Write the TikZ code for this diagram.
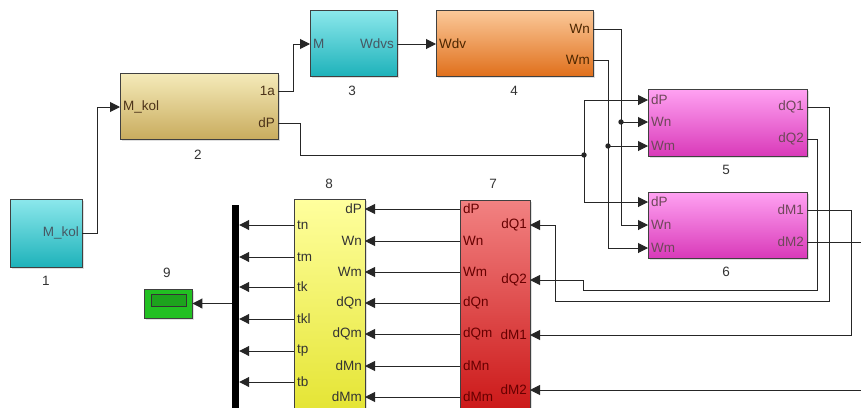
\documentclass[tikz,border=0pt]{standalone}
\usepackage{fontspec}
\setmainfont{Liberation Sans}
\usetikzlibrary{arrows.meta,shadows}

\definecolor{cyantop}{HTML}{8CE8EC}
\definecolor{cyanbot}{HTML}{1EB2BA}
\definecolor{khakitop}{HTML}{F5EBBA}
\definecolor{khakibot}{HTML}{C9AC5E}
\definecolor{orangetop}{HTML}{FBC99A}
\definecolor{orangebot}{HTML}{E0701C}
\definecolor{pinktop}{HTML}{FFA2F2}
\definecolor{pinkbot}{HTML}{D93AB9}
\definecolor{redtop}{HTML}{F28282}
\definecolor{redbot}{HTML}{C80E0E}
\definecolor{yellowtop}{HTML}{FFFF9E}
\definecolor{yellowbot}{HTML}{E2E22A}
\definecolor{scopegreen}{HTML}{22C022}

\tikzset{
  blk/.style={draw=black!75, line width=0.9pt, inner sep=0pt,
    drop shadow={opacity=0.25, shadow xshift=1.5pt, shadow yshift=-1.5pt}},
  pin/.style={inner sep=3pt, font=\fontsize{13.5}{15}\selectfont},
  num/.style={inner sep=0pt, text=black!80, font=\fontsize{13.5}{15}\selectfont},
  wire/.style={draw=black!85, line width=1pt},
  arr/.style={wire, -{Triangle[length=10pt,width=10pt]}},
  dot/.style={fill=black!85}
}

\begin{document}
\begin{tikzpicture}[x=1pt, y=-1pt]
  \useasboundingbox (0,0) rectangle (861,407);

  %Blocs
  \node[blk, top color=cyantop, bottom color=cyanbot, minimum width=72pt, minimum height=68pt] (b1) at (46,233) {};
  \node[blk, top color=khakitop, bottom color=khakibot, minimum width=158pt, minimum height=66pt] (b2) at (199,106) {};
  \node[blk, top color=cyantop, bottom color=cyanbot, minimum width=87pt, minimum height=66pt] (b3) at (353.5,43) {};
  \node[blk, top color=orangetop, bottom color=orangebot, minimum width=157pt, minimum height=66pt] (b4) at (514.5,43) {};
  \node[blk, top color=pinktop, bottom color=pinkbot, minimum width=159pt, minimum height=67pt] (b5) at (727.5,122.5) {};
  \node[blk, top color=pinktop, bottom color=pinkbot, minimum width=159pt, minimum height=66pt] (b6) at (727.5,225) {};
  \node[blk, top color=redtop, bottom color=redbot, minimum width=70pt, minimum height=230pt] (b7) at (495,315) {};
  \node[blk, top color=yellowtop, bottom color=yellowbot, minimum width=71pt, minimum height=231pt] (b8) at (329.5,314.5) {};
  \node[fill=black, inner sep=0pt, minimum width=7pt, minimum height=225pt] (mux) at (235.5,317.5) {};
  \node[blk, fill=scopegreen, minimum width=48pt, minimum height=29pt] (b9) at (168,303.5) {};
  \node[draw=black!80, line width=0.9pt, fill=scopegreen!85!black, inner sep=0pt, minimum width=35pt, minimum height=12pt] (b9screen) at (168.5,300) {};

  %Numeros
  \node[num] (n1) at (46,281) {1};
  \node[num] (n2) at (198,155) {2};
  \node[num] (n3) at (352,91) {3};
  \node[num] (n4) at (514,91) {4};
  \node[num] (n5) at (726,170) {5};
  \node[num] (n6) at (726,272) {6};
  \node[num] (n7) at (493,184) {7};
  \node[num] (n8) at (329,184) {8};
  \node[num] (n9) at (167,273) {9};

  %Ports
  \node[pin, text=cyan!30!black, anchor=east] (b1-M) at (82,233) {M\_kol};
  \node[pin, text=brown!40!black, anchor=west] (b2-M) at (120,107) {M\_kol};
  \node[pin, text=brown!40!black, anchor=east] (b2-1a) at (278,91) {1a};
  \node[pin, text=brown!40!black, anchor=east] (b2-dP) at (278,123) {dP};
  \node[pin, text=cyan!30!black, anchor=west] (b3-M) at (310,44) {M};
  \node[pin, text=cyan!30!black, anchor=east] (b3-W) at (397,44) {Wdvs};
  \node[pin, text=orange!30!black, anchor=west] (b4-W) at (436,44) {Wdv};
  \node[pin, text=orange!30!black, anchor=east] (b4-Wn) at (593,29) {Wn};
  \node[pin, text=orange!30!black, anchor=east] (b4-Wm) at (593,60) {Wm};
  \foreach \p/\y in {dP/100, Wn/122, Wm/146}
    \node[pin, text=magenta!35!black, anchor=west] (b5-\p) at (648,\y) {\p};
  \foreach \p/\y in {dQ1/107, dQ2/139}
    \node[pin, text=magenta!35!black, anchor=east] (b5-\p) at (807,\y) {\p};
  \foreach \p/\y in {dP/202, Wn/225, Wm/248}
    \node[pin, text=magenta!35!black, anchor=west] (b6-\p) at (648,\y) {\p};
  \foreach \p/\y in {dM1/210, dM2/242}
    \node[pin, text=magenta!35!black, anchor=east] (b6-\p) at (807,\y) {\p};
  \foreach \p/\y in {dP/209, Wn/241, Wm/272, dQn/303, dQm/334, dMn/366, dMm/397}{
    \node[pin, text=red!40!black, anchor=west] (b7-\p) at (460,\y) {\p};
    \node[pin, text=black!80, anchor=east] (b8-\p) at (365,\y) {\p};
  }
  \foreach \p/\y in {dQ1/225, dQ2/280, dM1/335, dM2/390}
    \node[pin, text=red!40!black, anchor=east] (b7-\p) at (530,\y) {\p};
  \foreach \p/\y in {tn/225, tm/257, tk/287, tkl/319, tp/351, tb/382}
    \node[pin, text=black!80, anchor=west] (b8-\p) at (294,\y) {\p};

  %Liaisons du haut
  \draw[arr] (b1-M.east) -- ++(15,0) |- (b2-M.west);
  \draw[arr] (b2-1a.east) -- ++(15,0) |- (b3-M.west);
  \draw[arr] (b3-W.east) -- (b4-W.west);
  \draw[arr] (b4-Wn.east) -| (621,225) -- (b6-Wn.west);
  \draw[arr] (b4-Wm.east) -| (608,248) -- (b6-Wm.west);
  \draw[arr] (621,122) -- (b5-Wn.west);
  \draw[arr] (608,146) -- (b5-Wm.west);
  \fill[dot] (621,122) circle (2.7pt);
  \fill[dot] (608,146) circle (2.7pt);
  \coordinate (split) at (584,155);
  \draw[wire] (b2-dP.east) -- ++(22,0) |- (split);
  \draw[arr] (split) |- (b5-dP.west);
  \draw[arr] (split) |- (b6-dP.west);
  \fill[dot] (split) circle (2.7pt);

  %Retours vers 7
  \draw[arr] (b5-dQ1.east) -- (829,107) -- (829,301) -- (555,301) |- (b7-dQ1.east);
  \draw[arr] (b5-dQ2.east) -- (817,139) -- (817,290) -- (583,290) |- (b7-dQ2.east);
  \draw[arr] (b6-dM1.east) -- (851,210) |- (b7-dM1.east);
  \coordinate (out) at (875,242);
  \draw[arr] (b6-dM2.east) -- (out) |- (b7-dM2.east);

  %7 vers 8, 8 vers mux, mux vers 9
  \foreach \p in {dP, Wn, Wm, dQn, dQm, dMn, dMm}
    \draw[arr] (b7-\p.west) -- (b8-\p.east);
  \foreach \p in {tn, tm, tk, tkl, tp, tb}
    \draw[arr] (b8-\p.west) -- (b8-\p.west -| mux.east);
  \draw[arr] (mux.west |- b9.east) -- (b9.east);
\end{tikzpicture}
\end{document}
